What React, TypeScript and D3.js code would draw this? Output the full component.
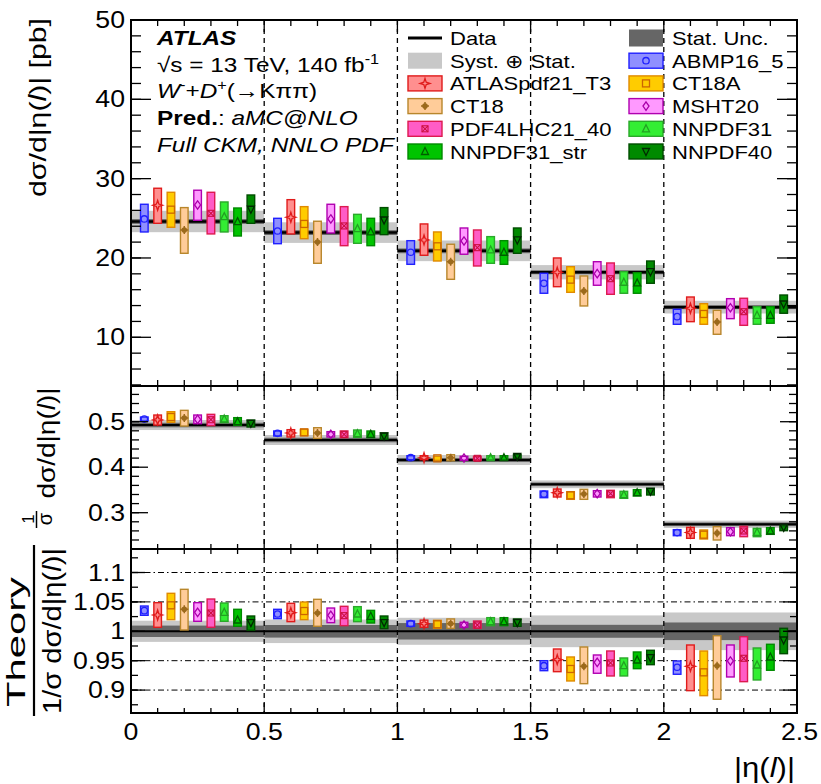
import React from 'react';
import * as d3 from 'd3';

const binEdges = [0, 0.5, 1, 1.5, 2, 2.5];
const pdfNames = ['ABMP16_5', 'ATLASpdf21_T3', 'CT18A', 'CT18', 'MSHT20', 'PDF4LHC21_40', 'NNPDF31', 'NNPDF31_str', 'NNPDF40'];
const pdfFill = ['#8f8fff', '#ff8f8f', '#ffcc00', '#ffcc99', '#ff99ff', '#ff5cc6', '#33ee33', '#00c400', '#008a00'];
const pdfLine = ['#2020ff', '#e01b1b', '#e08a00', '#b8862b', '#b000b0', '#dd1a50', '#2aa82a', '#008a00', '#004d00'];
const pdfMarkColor = ['#2020ff', '#e01b1b', '#cc6600', '#9c6a1c', '#aa00aa', '#cc1040', '#22a022', '#005c00', '#002800'];
const pdfMarker = ['circle', 'star', 'square', 'cross', 'diamond', 'xstar', 'tri', 'tri', 'tridown'];

// top panel: dsigma/d|eta| [pb]
const dataXsec = [24.6, 23.2, 20.9, 18.2, 13.8];
const dataXsecTot = [1.35, 1.3, 1.3, 0.9, 0.8];
const dataXsecStat = [0.3, 0.3, 0.3, 0.25, 0.25];
const predXsec = [
  [24.92, 23.4, 20.72, 16.81, 12.6],
  [26.64, 25.13, 22.27, 18.2, 13.66],
  [26.09, 24.29, 21.47, 17.27, 12.94],
  [23.53, 22.02, 19.53, 15.84, 11.93],
  [26.68, 24.92, 22.14, 18.02, 13.73],
  [25.63, 24.04, 21.3, 17.39, 13.23],
  [25.21, 23.7, 21.01, 16.94, 12.77],
  [24.58, 23.28, 20.72, 16.85, 12.77],
  [26.14, 24.79, 22.27, 18.27, 14.2],
];
const predXsecLo = [
  [23.28, 21.8, 19.2, 15.55, 11.64],
  [24.37, 23.03, 20.34, 16.38, 11.97],
  [23.87, 22.43, 19.62, 15.67, 11.64],
  [20.59, 19.33, 17.31, 13.95, 10.38],
  [24.75, 23.15, 20.47, 16.56, 12.35],
  [23.03, 21.55, 18.99, 15.42, 11.51],
  [23.28, 21.85, 19.33, 15.55, 11.64],
  [22.77, 21.55, 19.2, 15.55, 11.77],
  [24.37, 22.94, 20.59, 16.81, 13.03],
];
const predXsecHi = [
  [26.77, 25.0, 22.18, 18.07, 13.53],
  [28.79, 27.35, 24.29, 20.0, 15.08],
  [28.28, 26.47, 23.28, 18.9, 14.24],
  [26.35, 24.63, 21.73, 17.73, 13.4],
  [28.54, 26.77, 23.78, 19.53, 14.87],
  [28.28, 26.47, 23.53, 19.37, 14.92],
  [27.06, 25.5, 22.69, 18.27, 13.86],
  [26.3, 25.0, 22.18, 18.15, 13.86],
  [27.94, 26.35, 23.78, 19.62, 15.33],
];

// middle panel: normalised
const dataNorm = [0.4927, 0.4598, 0.4158, 0.3624, 0.2745];
const dataNormTot = [0.011, 0.011, 0.011, 0.0085, 0.008];
const dataNormStat = [0.005, 0.005, 0.0045, 0.004, 0.004];
const predNorm = [
  [0.5059, 0.4745, 0.4209, 0.3411, 0.2564],
  [0.504, 0.4752, 0.4209, 0.344, 0.2564],
  [0.5103, 0.4766, 0.4195, 0.3382, 0.2517],
  [0.508, 0.4752, 0.4209, 0.341, 0.255],
  [0.505, 0.4723, 0.4202, 0.3418, 0.2582],
  [0.5044, 0.4723, 0.4195, 0.3418, 0.2598],
  [0.506, 0.4737, 0.4209, 0.3396, 0.2569],
  [0.5, 0.4723, 0.4209, 0.344, 0.2598],
  [0.4965, 0.4686, 0.424, 0.347, 0.2678],
];
const predNormLo = [
  [0.5015, 0.4686, 0.4165, 0.333, 0.2495],
  [0.4927, 0.4664, 0.4165, 0.3345, 0.2437],
  [0.4986, 0.4693, 0.415, 0.3294, 0.2422],
  [0.4905, 0.4634, 0.4143, 0.3294, 0.24],
  [0.4957, 0.4664, 0.4165, 0.3345, 0.2495],
  [0.4913, 0.4649, 0.415, 0.333, 0.2473],
  [0.4979, 0.4656, 0.4165, 0.3316, 0.2473],
  [0.492, 0.4649, 0.4165, 0.3367, 0.2524],
  [0.4884, 0.4612, 0.4195, 0.3389, 0.2605],
];
const predNormHi = [
  [0.5103, 0.4796, 0.4253, 0.3477, 0.2627],
  [0.5147, 0.4825, 0.4253, 0.3521, 0.2678],
  [0.522, 0.4832, 0.424, 0.3462, 0.262],
  [0.525, 0.4868, 0.4275, 0.3514, 0.2693],
  [0.5147, 0.4781, 0.424, 0.3484, 0.2671],
  [0.5162, 0.4796, 0.424, 0.3492, 0.27],
  [0.5132, 0.4818, 0.4253, 0.347, 0.2656],
  [0.5089, 0.4796, 0.4253, 0.3506, 0.2671],
  [0.5037, 0.4752, 0.4282, 0.3536, 0.2715],
];

// bottom panel: theory / data
const dataRatio = [1, 1, 1, 1, 1];
const dataRatioTot = [0.018, 0.02, 0.023, 0.027, 0.032];
const dataRatioStat = [0.0097, 0.0107, 0.014, 0.011, 0.015];
const predRatio = [
  [1.0351, 1.0294, 1.013, 0.9415, 0.9388],
  [1.0277, 1.0317, 1.013, 0.9517, 0.9404],
  [1.0442, 1.0345, 1.0119, 0.9359, 0.9302],
  [1.0374, 1.031, 1.013, 0.9404, 0.9415],
  [1.0323, 1.0272, 1.0107, 0.9472, 0.9495],
  [1.0311, 1.0266, 1.0107, 0.9461, 0.9541],
  [1.0323, 1.0294, 1.0164, 0.9415, 0.9427],
  [1.0192, 1.0255, 1.0164, 0.9512, 0.9563],
  [1.0147, 1.0147, 1.0147, 0.9552, 0.9852],
];
const predRatioLo = [
  [1.0272, 1.0215, 1.0085, 0.933, 0.9269],
  [1.0068, 1.0164, 1.0068, 0.9313, 0.899],
  [1.0198, 1.0198, 1.005, 0.9155, 0.8905],
  [1.0022, 1.0085, 1.005, 0.9109, 0.8844],
  [1.017, 1.0147, 1.0068, 0.9286, 0.9223],
  [1.0068, 1.0096, 1.005, 0.924, 0.9143],
  [1.017, 1.0164, 1.0096, 0.924, 0.9172],
  [1.0085, 1.0141, 1.0096, 0.9364, 0.9337],
  [1.0016, 1.0045, 1.0085, 0.9432, 0.9619],
];
const predRatioHi = [
  [1.043, 1.0374, 1.0175, 0.95, 0.9495],
  [1.0487, 1.0476, 1.019, 0.9699, 0.9767],
  [1.0646, 1.0498, 1.0187, 0.9563, 0.9665],
  [1.0714, 1.0544, 1.021, 0.9733, 0.9925],
  [1.0487, 1.0396, 1.0153, 0.9597, 0.9767],
  [1.0549, 1.0425, 1.0175, 0.9665, 0.9908],
  [1.0481, 1.0419, 1.0232, 0.9546, 0.9716],
  [1.0374, 1.0356, 1.0232, 0.9648, 0.9779],
  [1.026, 1.026, 1.021, 0.9677, 1.0051],
];

const xTicks = [0, 0.5, 1, 1.5, 2, 2.5];
const xTickLabels = ['0', '0.5', '1', '1.5', '2', '2.5'];
const yTopTicks = [10, 20, 30, 40, 50];
const yMidTicks = [0.3, 0.4, 0.5];
const yBotTicks = [0.9, 0.95, 1, 1.05, 1.1];
const yBotTickLabels = ['0.9', '0.95', '1', '1.05', '1.1'];
const yBotGrid = [0.9, 0.95, 1.05, 1.1];

const FONT = "'Liberation Sans', Arial, Helvetica, sans-serif";
const SX = 1.16;

const Txt = (p: any) => {
  const tf = p.rot
    ? `translate(${p.x},${p.y}) rotate(-90) scale(${SX},1)`
    : `translate(${p.x},${p.y}) scale(${SX},1)`;
  return (
    <text transform={tf} fontSize={p.size} textAnchor={p.anchor || 'start'} fontFamily={FONT}
      fontWeight={p.bold ? 'bold' : 'normal'} fontStyle={p.italic ? 'italic' : 'normal'} fill="#000">
      {p.children}
    </text>
  );
};

const Marker = ({ type, cx, cy, color }: any) => {
  const sw = 1.3;
  switch (type) {
    case 'circle':
      return <circle cx={cx} cy={cy} r={3.2} fill="none" stroke={color} strokeWidth={sw} />;
    case 'star':
      return <path d={`M${cx},${cy - 5}L${cx + 1.2},${cy - 1.2}L${cx + 5},${cy}L${cx + 1.2},${cy + 1.2}L${cx},${cy + 5}L${cx - 1.2},${cy + 1.2}L${cx - 5},${cy}L${cx - 1.2},${cy - 1.2}Z`}
        fill="none" stroke={color} strokeWidth={sw} />;
    case 'square':
      return <rect x={cx - 3.5} y={cy - 3.5} width={7} height={7} fill="none" stroke={color} strokeWidth={sw} />;
    case 'cross':
      return <g>
        <circle cx={cx} cy={cy} r={2.8} fill={color} />
        <path d={`M${cx - 4},${cy}H${cx + 4}M${cx},${cy - 4}V${cy + 4}`} stroke={color} strokeWidth={1.5} />
      </g>;
    case 'diamond':
      return <path d={`M${cx},${cy - 4.2}L${cx + 3},${cy}L${cx},${cy + 4.2}L${cx - 3},${cy}Z`} fill="none" stroke={color} strokeWidth={sw} />;
    case 'xstar':
      return <g>
        <rect x={cx - 3} y={cy - 3} width={6} height={6} fill="none" stroke={color} strokeWidth={1.1} />
        <path d={`M${cx - 3},${cy - 3}L${cx + 3},${cy + 3}M${cx + 3},${cy - 3}L${cx - 3},${cy + 3}`} stroke={color} strokeWidth={1.1} />
      </g>;
    case 'tri':
      return <path d={`M${cx},${cy - 4}L${cx + 3.5},${cy + 3}L${cx - 3.5},${cy + 3}Z`} fill="none" stroke={color} strokeWidth={sw} />;
    case 'tridown':
      return <path d={`M${cx},${cy + 4}L${cx + 3.5},${cy - 3}L${cx - 3.5},${cy - 3}Z`} fill="none" stroke={color} strokeWidth={sw} />;
  }
  return null;
};

const X0 = 131, X1 = 797;

export default function App() {
  const x = d3.scaleLinear().domain([0, 2.5]).range([X0, X1]);

  const panels = [
    {
      top: 20, bot: 386, y: d3.scaleLinear().domain([3.86, 50]).range([386, 20]),
      majors: yTopTicks, labels: yTopTicks.map(String), minors: d3.range(4, 50.001, 2), majLen: 20, minLen: 10, xMaj: 12, xMin: 6,
      data: dataXsec, tot: dataXsecTot, stat: dataXsecStat, pc: predXsec, plo: predXsecLo, phi: predXsecHi, grid: [] as number[],
    },
    {
      top: 386, bot: 549, y: d3.scaleLinear().domain([0.2202, 0.5785]).range([549, 386]),
      majors: yMidTicks, labels: yMidTicks.map(String), minors: d3.range(0.22, 0.58, 0.02), majLen: 17, minLen: 8, xMaj: 10, xMin: 5,
      data: dataNorm, tot: dataNormTot, stat: dataNormStat, pc: predNorm, plo: predNormLo, phi: predNormHi, grid: [] as number[],
    },
    {
      top: 549, bot: 713, y: d3.scaleLinear().domain([0.861, 1.14]).range([713, 549]),
      majors: yBotTicks, labels: yBotTickLabels, minors: d3.range(0.875, 1.13, 0.025), majLen: 14, minLen: 7, xMaj: 10, xMin: 5,
      data: dataRatio, tot: dataRatioTot, stat: dataRatioStat, pc: predRatio, plo: predRatioLo, phi: predRatioHi, grid: yBotGrid,
    },
  ];

  const minorX = d3.range(0, 2.5001, 0.1);
  const boxHW = 3.8;

  return (
    <svg width={821} height={784} style={{ position: 'absolute', left: 0, top: 0, background: '#fff' }}>
      <rect width={821} height={784} fill="#fff" />
      {panels.map((P, pi) => {
        const y = P.y;
        const bins = d3.range(5);
        return (
          <g key={pi}>
            {/* uncertainty bands and data */}
            {bins.map((b) => (
              <g key={'b' + b}>
                <rect x={x(binEdges[b])} width={x(binEdges[b + 1]) - x(binEdges[b])}
                  y={y(P.data[b] + P.tot[b])} height={y(P.data[b] - P.tot[b]) - y(P.data[b] + P.tot[b])} fill="#c8c8c8" />
                <rect x={x(binEdges[b])} width={x(binEdges[b + 1]) - x(binEdges[b])}
                  y={y(P.data[b] + P.stat[b])} height={y(P.data[b] - P.stat[b]) - y(P.data[b] + P.stat[b])} fill="#666" />
                <line x1={x(binEdges[b])} x2={x(binEdges[b + 1])} y1={y(P.data[b])} y2={y(P.data[b])} stroke="#000" strokeWidth={pi === 0 ? 2.5 : 2} />
              </g>
            ))}
            {/* grid lines */}
            {P.grid.map((g) => (
              <line key={'g' + g} x1={X0} x2={X1} y1={y(g)} y2={y(g)} stroke="#000" strokeWidth={1} strokeDasharray="6,3,1.5,3" />
            ))}
            {/* bin separators */}
            {binEdges.slice(1, 5).map((e) => (
              <line key={'d' + e} x1={x(e)} x2={x(e)} y1={P.top} y2={P.bot} stroke="#000" strokeWidth={1.3} strokeDasharray="5,4" />
            ))}
            {/* predictions */}
            {pdfNames.map((name, k) => bins.map((b) => {
              const cx = x(binEdges[b] + 0.05 * (k + 1));
              const yt = y(P.phi[k][b]);
              const yb = y(P.plo[k][b]);
              return (
                <g key={name + b}>
                  <rect x={cx - boxHW} y={yt} width={boxHW * 2} height={Math.max(yb - yt, 4)} fill={pdfFill[k]} stroke={pdfLine[k]} strokeWidth={1.4} />
                  <Marker type={pdfMarker[k]} cx={cx} cy={y(P.pc[k][b])} color={pdfMarkColor[k]} />
                </g>
              );
            }))}
            {/* frame */}
            <rect x={X0} y={P.top} width={X1 - X0} height={P.bot - P.top} fill="none" stroke="#000" strokeWidth={2} />
            {/* y ticks */}
            {P.minors.filter((v) => y(v) > P.top + 1 && y(v) < P.bot - 1).map((v) => (
              <g key={'ym' + v}>
                <line x1={X0} x2={X0 + P.minLen} y1={y(v)} y2={y(v)} stroke="#000" strokeWidth={1.3} />
                <line x1={X1} x2={X1 - P.minLen} y1={y(v)} y2={y(v)} stroke="#000" strokeWidth={1.3} />
              </g>
            ))}
            {P.majors.filter((v) => y(v) > P.top + 1 && y(v) < P.bot - 1).map((v) => (
              <g key={'yM' + v}>
                <line x1={X0} x2={X0 + P.majLen} y1={y(v)} y2={y(v)} stroke="#000" strokeWidth={1.3} />
                <line x1={X1} x2={X1 - P.majLen} y1={y(v)} y2={y(v)} stroke="#000" strokeWidth={1.3} />
              </g>
            ))}
            {P.majors.map((v, i) => (
              <Txt key={'yl' + v} x={125} y={y(v) + 8} size={23} anchor="end">{P.labels[i]}</Txt>
            ))}
            {/* x ticks */}
            {minorX.map((v) => {
              const isMaj = Math.abs(v / 0.5 - Math.round(v / 0.5)) < 1e-6;
              const L = isMaj ? P.xMaj : P.xMin;
              return (
                <g key={'xt' + v}>
                  <line x1={x(v)} x2={x(v)} y1={P.bot} y2={P.bot - L} stroke="#000" strokeWidth={1.3} />
                  <line x1={x(v)} x2={x(v)} y1={P.top} y2={P.top + L} stroke="#000" strokeWidth={1.3} />
                </g>
              );
            })}
          </g>
        );
      })}

      {/* x tick labels */}
      {xTicks.map((v, i) => (
        <Txt key={'xl' + v} x={i === 5 ? 818 : x(v)} y={740} size={23} anchor={i === 5 ? 'end' : 'middle'}>{xTickLabels[i]}</Txt>
      ))}
      <text x={795} y={777} fontSize={28} fontFamily={FONT} textAnchor="end" textLength={61} lengthAdjust="spacingAndGlyphs">
        |η(<tspan fontStyle="italic">l</tspan>)|
      </text>

      {/* y titles */}
      <text transform="translate(46,107.5) rotate(-90)" fontSize={24} fontFamily={FONT} textAnchor="middle" textLength={179} lengthAdjust="spacingAndGlyphs">
        dσ/d|η(<tspan fontStyle="italic">l</tspan>)| [pb]
      </text>
      <text transform="translate(55,443) rotate(-90)" fontSize={23} fontFamily={FONT} textAnchor="middle" textLength={111} lengthAdjust="spacingAndGlyphs">
        dσ/d|η(<tspan fontStyle="italic">l</tspan>)|
      </text>
      <text transform="translate(34,519) rotate(-90)" fontSize={17} fontFamily={FONT} textAnchor="middle">1</text>
      <line x1={36.5} x2={36.5} y1={511} y2={528} stroke="#000" strokeWidth={1.5} />
      <text transform="translate(52,519) rotate(-90)" fontSize={20} fontFamily={FONT} textAnchor="middle">σ</text>

      <text transform="translate(25,642) rotate(-90)" fontSize={25} fontFamily={FONT} textAnchor="middle" textLength={130} lengthAdjust="spacingAndGlyphs">Theory</text>
      <line x1={34} x2={34} y1={545} y2={716} stroke="#000" strokeWidth={2.2} />
      <text transform="translate(61,631) rotate(-90)" fontSize={26} fontFamily={FONT} textAnchor="middle" textLength={166} lengthAdjust="spacingAndGlyphs">
        1/σ dσ/d|η(<tspan fontStyle="italic">l</tspan>)|
      </text>

      {/* ATLAS label block */}
      <Txt x={157} y={45} size={21} bold italic>ATLAS</Txt>
      <Txt x={157} y={72} size={21}>√s = 13 TeV, 140 fb<tspan dy={-8} fontSize={14}>-1</tspan></Txt>
      <Txt x={157} y={98} size={21}>
        <tspan fontStyle="italic">W</tspan><tspan dy={-8} fontSize={14}>-</tspan><tspan dy={8}>+</tspan>
        <tspan fontStyle="italic">D</tspan><tspan dy={-8} fontSize={14}>+</tspan><tspan dy={8}>(→Kππ)</tspan>
      </Txt>
      <Txt x={157} y={125} size={21}><tspan fontWeight="bold">Pred.</tspan>: <tspan fontStyle="italic">aMC@NLO</tspan></Txt>
      <Txt x={157} y={152} size={21} italic>Full CKM, NNLO PDF</Txt>

      {/* legend */}
      {(() => {
        const rowY = (r: number) => 38 + r * 22.7;
        const col1 = ['Data', 'Syst. ⊕ Stat.', pdfNames[1], pdfNames[3], pdfNames[5], pdfNames[7]];
        const col2 = ['Stat. Unc.', pdfNames[0], pdfNames[2], pdfNames[4], pdfNames[6], pdfNames[8]];
        const sym = (label: string, sx: number, cy: number) => {
          if (label === 'Data') return <line x1={sx} x2={sx + 34} y1={cy} y2={cy} stroke="#000" strokeWidth={3} />;
          if (label.startsWith('Syst')) return <rect x={sx} y={cy - 8} width={34} height={16} fill="#c8c8c8" />;
          if (label.startsWith('Stat')) return <rect x={sx} y={cy - 8.5} width={34} height={17} fill="#666" />;
          const k = pdfNames.indexOf(label);
          return (
            <g>
              <rect x={sx} y={cy - 7.5} width={34} height={15} fill={pdfFill[k]} stroke={pdfLine[k]} strokeWidth={1.4} />
              <Marker type={pdfMarker[k]} cx={sx + 17} cy={cy} color={pdfMarkColor[k]} />
            </g>
          );
        };
        return (
          <g>
            {col1.map((l, r) => (
              <g key={'l1' + r}>
                {sym(l, 408, rowY(r))}
                <Txt x={450} y={rowY(r) + 7} size={19}>{l}</Txt>
              </g>
            ))}
            {col2.map((l, r) => (
              <g key={'l2' + r}>
                {sym(l, 629, rowY(r))}
                <Txt x={672} y={rowY(r) + 7} size={19}>{l}</Txt>
              </g>
            ))}
          </g>
        );
      })()}
    </svg>
  );
}
